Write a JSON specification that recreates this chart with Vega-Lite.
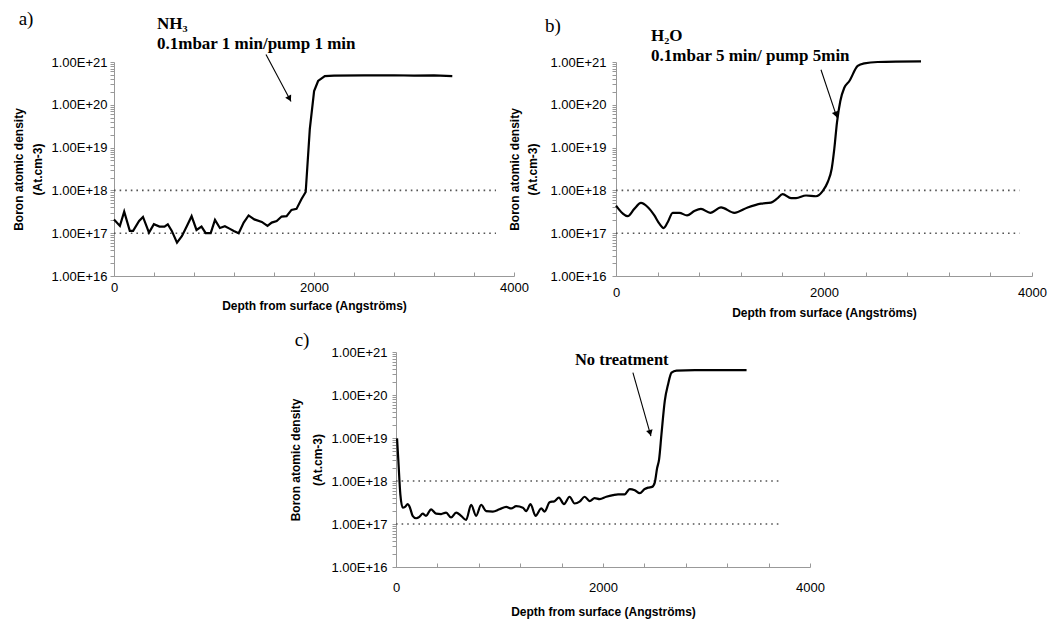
{
  "$schema": "https://vega.github.io/schema/vega-lite/v6.json",
  "background": "white",
  "padding": {"left": 12, "top": 10, "right": 5, "bottom": 5},
  "config": {"view": {"stroke": null}},
  "datasets": {
    "a": [
      {"d":0,"v":2.1e17},{"d":59,"v":1.48e17},{"d":102,"v":3.2e17},{"d":158,"v":1.13e17},{"d":191,"v":1.13e17},{"d":251,"v":1.93e17},{"d":290,"v":2.4e17},{"d":350,"v":1.03e17},{"d":399,"v":1.62e17},{"d":455,"v":1.43e17},{"d":505,"v":1.43e17},{"d":538,"v":1.62e17},{"d":578,"v":1.13e17},{"d":630,"v":6.0e16},{"d":680,"v":8.6e16},{"d":729,"v":1.48e17},{"d":776,"v":2.5e17},{"d":825,"v":1.19e17},{"d":875,"v":1.43e17},{"d":917,"v":1.0e17},{"d":967,"v":1.0e17},{"d":1010,"v":2.04e17},{"d":1059,"v":1.32e17},{"d":1109,"v":1.45e17},{"d":1155,"v":1.28e17},{"d":1198,"v":1.13e17},{"d":1247,"v":1.0e17},{"d":1297,"v":1.77e17},{"d":1346,"v":2.6e17},{"d":1403,"v":2.1e17},{"d":1478,"v":1.83e17},{"d":1535,"v":1.48e17},{"d":1577,"v":1.77e17},{"d":1627,"v":1.93e17},{"d":1676,"v":2.45e17},{"d":1726,"v":2.5e17},{"d":1775,"v":3.5e17},{"d":1825,"v":3.7e17},{"d":1874,"v":6.2e17},{"d":1917,"v":9.2e17},{"d":1958,"v":2.7e19},{"d":2001,"v":2.1e20},{"d":2041,"v":3.6e20},{"d":2108,"v":4.7e20},{"d":2200,"v":4.8e20},{"d":2500,"v":4.85e20},{"d":2800,"v":4.9e20},{"d":3000,"v":4.8e20},{"d":3200,"v":4.85e20},{"d":3383,"v":4.7e20}
    ],
    "b": [
      {"d":0,"v":4.4e17},{"d":64,"v":2.9e17},{"d":112,"v":2.5e17},{"d":176,"v":3.7e17},{"d":240,"v":5.1e17},{"d":304,"v":4.1e17},{"d":369,"v":2.6e17},{"d":417,"v":1.67e17},{"d":458,"v":1.32e17},{"d":497,"v":1.8e17},{"d":545,"v":3.0e17},{"d":609,"v":3.0e17},{"d":683,"v":2.6e17},{"d":753,"v":3.3e17},{"d":817,"v":3.7e17},{"d":907,"v":3.0e17},{"d":1010,"v":4.0e17},{"d":1138,"v":3.0e17},{"d":1266,"v":4.0e17},{"d":1394,"v":4.9e17},{"d":1490,"v":5.2e17},{"d":1548,"v":6.4e17},{"d":1602,"v":8.2e17},{"d":1683,"v":6.6e17},{"d":1731,"v":6.6e17},{"d":1827,"v":7.6e17},{"d":1923,"v":7.3e17},{"d":1987,"v":9.6e17},{"d":2035,"v":1.55e18},{"d":2074,"v":3.2e18},{"d":2099,"v":9.3e18},{"d":2125,"v":3.9e19},{"d":2157,"v":1.23e20},{"d":2195,"v":2.5e20},{"d":2244,"v":3.6e20},{"d":2324,"v":8.1e20},{"d":2388,"v":9.3e20},{"d":2516,"v":1.0e21},{"d":2933,"v":1.03e21}
    ],
    "c": [
      {"d":10,"v":9.8e18},{"d":23,"v":2.9e18},{"d":42,"v":4.9e17},{"d":65,"v":2.4e17},{"d":87,"v":2.5e17},{"d":113,"v":2.9e17},{"d":132,"v":2.5e17},{"d":161,"v":1.55e17},{"d":194,"v":1.36e17},{"d":226,"v":1.46e17},{"d":258,"v":1.74e17},{"d":290,"v":1.55e17},{"d":339,"v":2.2e17},{"d":387,"v":1.74e17},{"d":436,"v":1.7e17},{"d":484,"v":1.84e17},{"d":532,"v":1.42e17},{"d":581,"v":1.84e17},{"d":629,"v":1.55e17},{"d":677,"v":1.24e17},{"d":726,"v":2.8e17},{"d":774,"v":1.55e17},{"d":823,"v":2.8e17},{"d":871,"v":2.0e17},{"d":936,"v":1.95e17},{"d":1000,"v":2.2e17},{"d":1065,"v":2.5e17},{"d":1113,"v":2.3e17},{"d":1161,"v":2.6e17},{"d":1226,"v":2.4e17},{"d":1258,"v":2.0e17},{"d":1300,"v":2.9e17},{"d":1348,"v":1.55e17},{"d":1403,"v":2.3e17},{"d":1436,"v":1.95e17},{"d":1484,"v":3.2e17},{"d":1532,"v":3.4e17},{"d":1574,"v":4.1e17},{"d":1623,"v":2.9e17},{"d":1677,"v":4.3e17},{"d":1726,"v":3.0e17},{"d":1774,"v":3.3e17},{"d":1823,"v":4.3e17},{"d":1871,"v":3.4e17},{"d":1919,"v":4.0e17},{"d":1968,"v":3.8e17},{"d":2032,"v":4.3e17},{"d":2097,"v":4.7e17},{"d":2145,"v":4.9e17},{"d":2210,"v":4.9e17},{"d":2258,"v":6.5e17},{"d":2307,"v":6.1e17},{"d":2355,"v":5.2e17},{"d":2403,"v":6.5e17},{"d":2436,"v":7.0e17},{"d":2474,"v":7.3e17},{"d":2500,"v":9.2e17},{"d":2523,"v":2.0e18},{"d":2542,"v":3.2e18},{"d":2565,"v":1.23e19},{"d":2597,"v":7.3e19},{"d":2629,"v":1.78e20},{"d":2662,"v":3.3e20},{"d":2710,"v":3.7e20},{"d":2887,"v":3.8e20},{"d":3387,"v":3.8e20}
    ],
    "refs": [
      {"panel":"a","d":0,"d2":3820,"v":1e18},{"panel":"a","d":0,"d2":3820,"v":1e17},
      {"panel":"b","d":0,"d2":3880,"v":1e18},{"panel":"b","d":0,"d2":3880,"v":1e17},
      {"panel":"c","d":0,"d2":3707,"v":1e18},{"panel":"c","d":0,"d2":3707,"v":1e17}
    ],
    "notes": [
      {"panel":"a","kind":"letter","t":"a)","d":-880,"v":1.0e22},
      {"panel":"a","kind":"note","t":"NH₃","d":430,"v":7.6e21},
      {"panel":"a","kind":"note","t":"0.1mbar 1 min/pump 1 min","d":430,"v":2.6e21},
      {"panel":"b","kind":"letter","t":"b)","d":-606,"v":6.9e21},
      {"panel":"b","kind":"note","t":"H₂O","d":337,"v":4.1e21},
      {"panel":"b","kind":"note","t":"0.1mbar 5 min/ pump 5min","d":337,"v":1.38e21},
      {"panel":"c","kind":"letter","t":"c)","d":-908,"v":1.9e21},
      {"panel":"c","kind":"note","t":"No treatment","d":1729,"v":6.4e20}
    ],
    "arrows": [
      {"panel":"a","d":1520,"v":1.5e21,"d2":1770,"v2":1.2e20},
      {"panel":"b","d":1971,"v":6.6e20,"d2":2125,"v2":5.0e19},
      {"panel":"c","d":2289,"v":3.3e20,"d2":2463,"v2":1.1e19}
    ],
    "heads": [
      {"panel":"a","d":1751,"v":1.46e20},
      {"panel":"b","d":2112,"v":6.2e19},
      {"panel":"c","d":2453,"v":1.38e19}
    ]
  },
  "spacing": 13,
  "vconcat": [
    {
      "spacing": 102,
      "bounds": "flush",
      "hconcat": [
        {
          "width": 400, "height": 214,
          "encoding": {
            "x": {"field": "d", "type": "quantitative", "scale": {"domain": [0, 4000], "nice": false, "zero": false},
              "axis": {"values": [0,400,800,1200,1600,2000,2400,2800,3200,3600,4000], "labelExpr": "datum.value % 2000 == 0 ? format(datum.value, 'd') : ''", "title": "Depth from surface (Angströms)", "grid": false, "tickSize": -4, "domainColor": "#999999", "tickColor": "#999999", "labelFont": "Liberation Sans", "labelFontSize": 13, "labelColor": "black", "labelPadding": 9, "labelOverlap": false, "labelFlush": false, "titleFont": "Liberation Sans", "titleFontSize": 12, "titleFontWeight": "bold", "titleColor": "black", "titlePadding": 6}},
            "y": {"field": "v", "type": "quantitative", "scale": {"type": "log", "domain": [1e16, 1e21], "nice": false},
              "axis": {"values": [1e16,2e16,3e16,4e16,5e16,6e16,7e16,8e16,9e16,1e17,2e17,3e17,4e17,5e17,6e17,7e17,8e17,9e17,1e18,2e18,3e18,4e18,5e18,6e18,7e18,8e18,9e18,1e19,2e19,3e19,4e19,5e19,6e19,7e19,8e19,9e19,1e20,2e20,3e20,4e20,5e20,6e20,7e20,8e20,9e20,1e21], "labelExpr": "indexof(format(datum.value, '.2e'), '1.00') == 0 ? upper(format(datum.value, '.2e')) : ''", "title": ["Boron atomic density", "(At.cm-3)"], "grid": false, "tickSize": 4, "domainColor": "#999999", "tickColor": "#999999", "labelFont": "Liberation Sans", "labelFontSize": 13, "labelColor": "black", "labelPadding": 3, "labelOverlap": false, "labelFlush": false, "titleFont": "Liberation Sans", "titleFontSize": 12, "titleFontWeight": "bold", "titleColor": "black", "titleLineHeight": 19, "titlePadding": 6}}
          },
          "layer": [
            {"data": {"name": "refs"}, "transform": [{"filter": "datum.panel == 'a'"}], "mark": {"type": "rule", "color": "#555555", "strokeWidth": 1.6, "strokeDash": [1.6, 4]}, "encoding": {"x2": {"field": "d2"}}},
            {"data": {"name": "a"}, "mark": {"type": "line", "color": "black", "strokeWidth": 2.2}},
            {"data": {"name": "arrows"}, "transform": [{"filter": "datum.panel == 'a'"}], "mark": {"type": "rule", "color": "black", "strokeWidth": 1.1}, "encoding": {"x2": {"field": "d2"}, "y2": {"field": "v2"}}},
            {"data": {"name": "heads"}, "transform": [{"filter": "datum.panel == 'a'"}], "mark": {"type": "point", "shape": "triangle", "filled": true, "color": "black", "size": 45, "opacity": 1, "angle": 152}},
            {"data": {"name": "notes"}, "transform": [{"filter": "datum.panel == 'a' && datum.kind == 'letter'"}], "mark": {"type": "text", "font": "Liberation Serif", "fontSize": 19, "color": "black", "align": "center", "baseline": "middle"}, "encoding": {"text": {"field": "t"}}},
            {"data": {"name": "notes"}, "transform": [{"filter": "datum.panel == 'a' && datum.kind == 'note'"}], "mark": {"type": "text", "font": "Liberation Serif", "fontSize": 17, "fontWeight": "bold", "color": "black", "align": "left", "baseline": "middle"}, "encoding": {"text": {"field": "t"}}}
          ]
        },
        {
          "width": 416, "height": 214,
          "encoding": {
            "x": {"field": "d", "type": "quantitative", "scale": {"domain": [0, 4000], "nice": false, "zero": false},
              "axis": {"values": [0,400,800,1200,1600,2000,2400,2800,3200,3600,4000], "labelExpr": "datum.value % 2000 == 0 ? format(datum.value, 'd') : ''", "title": "Depth from surface (Angströms)", "grid": false, "tickSize": -4, "domainColor": "#999999", "tickColor": "#999999", "labelFont": "Liberation Sans", "labelFontSize": 13, "labelColor": "black", "labelPadding": 14, "labelOverlap": false, "labelFlush": false, "titleFont": "Liberation Sans", "titleFontSize": 12, "titleFontWeight": "bold", "titleColor": "black", "titlePadding": 8}},
            "y": {"field": "v", "type": "quantitative", "scale": {"type": "log", "domain": [1e16, 1e21], "nice": false},
              "axis": {"values": [1e16,2e16,3e16,4e16,5e16,6e16,7e16,8e16,9e16,1e17,2e17,3e17,4e17,5e17,6e17,7e17,8e17,9e17,1e18,2e18,3e18,4e18,5e18,6e18,7e18,8e18,9e18,1e19,2e19,3e19,4e19,5e19,6e19,7e19,8e19,9e19,1e20,2e20,3e20,4e20,5e20,6e20,7e20,8e20,9e20,1e21], "labelExpr": "indexof(format(datum.value, '.2e'), '1.00') == 0 ? upper(format(datum.value, '.2e')) : ''", "title": ["Boron atomic density", "(At.cm-3)"], "grid": false, "tickSize": 4, "domainColor": "#999999", "tickColor": "#999999", "labelFont": "Liberation Sans", "labelFontSize": 13, "labelColor": "black", "labelPadding": 6, "labelOverlap": false, "labelFlush": false, "titleFont": "Liberation Sans", "titleFontSize": 12, "titleFontWeight": "bold", "titleColor": "black", "titleLineHeight": 18, "titlePadding": 10}}
          },
          "layer": [
            {"data": {"name": "refs"}, "transform": [{"filter": "datum.panel == 'b'"}], "mark": {"type": "rule", "color": "#555555", "strokeWidth": 1.6, "strokeDash": [1.6, 4]}, "encoding": {"x2": {"field": "d2"}}},
            {"data": {"name": "b"}, "mark": {"type": "line", "color": "black", "strokeWidth": 2.2, "interpolate": "monotone"}},
            {"data": {"name": "arrows"}, "transform": [{"filter": "datum.panel == 'b'"}], "mark": {"type": "rule", "color": "black", "strokeWidth": 1.1}, "encoding": {"x2": {"field": "d2"}, "y2": {"field": "v2"}}},
            {"data": {"name": "heads"}, "transform": [{"filter": "datum.panel == 'b'"}], "mark": {"type": "point", "shape": "triangle", "filled": true, "color": "black", "size": 45, "opacity": 1, "angle": 162}},
            {"data": {"name": "notes"}, "transform": [{"filter": "datum.panel == 'b' && datum.kind == 'letter'"}], "mark": {"type": "text", "font": "Liberation Serif", "fontSize": 19, "color": "black", "align": "center", "baseline": "middle"}, "encoding": {"text": {"field": "t"}}},
            {"data": {"name": "notes"}, "transform": [{"filter": "datum.panel == 'b' && datum.kind == 'note'"}], "mark": {"type": "text", "font": "Liberation Serif", "fontSize": 17, "fontWeight": "bold", "color": "black", "align": "left", "baseline": "middle"}, "encoding": {"text": {"field": "t"}}}
          ]
        }
      ]
    },
    {
      "spacing": 0,
      "bounds": "flush",
      "hconcat": [
        {"width": 282, "height": 215, "data": {"values": [{"t": ""}]}, "mark": {"type": "text"}, "encoding": {"text": {"field": "t"}}},
        {
          "width": 414, "height": 215,
          "encoding": {
            "x": {"field": "d", "type": "quantitative", "scale": {"domain": [0, 4000], "nice": false, "zero": false},
              "axis": {"values": [0,400,800,1200,1600,2000,2400,2800,3200,3600,4000], "labelExpr": "datum.value % 2000 == 0 ? format(datum.value, 'd') : ''", "title": "Depth from surface (Angströms)", "grid": false, "tickSize": -4, "domainColor": "#999999", "tickColor": "#999999", "labelFont": "Liberation Sans", "labelFontSize": 13, "labelColor": "black", "labelPadding": 18, "labelOverlap": false, "labelFlush": false, "titleFont": "Liberation Sans", "titleFontSize": 12, "titleFontWeight": "bold", "titleColor": "black", "titlePadding": 12}},
            "y": {"field": "v", "type": "quantitative", "scale": {"type": "log", "domain": [1e16, 1e21], "nice": false},
              "axis": {"values": [1e16,2e16,3e16,4e16,5e16,6e16,7e16,8e16,9e16,1e17,2e17,3e17,4e17,5e17,6e17,7e17,8e17,9e17,1e18,2e18,3e18,4e18,5e18,6e18,7e18,8e18,9e18,1e19,2e19,3e19,4e19,5e19,6e19,7e19,8e19,9e19,1e20,2e20,3e20,4e20,5e20,6e20,7e20,8e20,9e20,1e21], "labelExpr": "indexof(format(datum.value, '.2e'), '1.00') == 0 ? upper(format(datum.value, '.2e')) : ''", "title": ["Boron atomic density", "(At.cm-3)"], "grid": false, "tickSize": 4, "domainColor": "#999999", "tickColor": "#999999", "labelFont": "Liberation Sans", "labelFontSize": 13, "labelColor": "black", "labelPadding": 5, "labelOverlap": false, "labelFlush": false, "titleFont": "Liberation Sans", "titleFontSize": 12, "titleFontWeight": "bold", "titleColor": "black", "titleLineHeight": 22, "titlePadding": 6}}
          },
          "layer": [
            {"data": {"name": "refs"}, "transform": [{"filter": "datum.panel == 'c'"}], "mark": {"type": "rule", "color": "#555555", "strokeWidth": 1.6, "strokeDash": [1.6, 4]}, "encoding": {"x2": {"field": "d2"}}},
            {"data": {"name": "c"}, "mark": {"type": "line", "color": "black", "strokeWidth": 2.2, "interpolate": "monotone"}},
            {"data": {"name": "arrows"}, "transform": [{"filter": "datum.panel == 'c'"}], "mark": {"type": "rule", "color": "black", "strokeWidth": 1.1}, "encoding": {"x2": {"field": "d2"}, "y2": {"field": "v2"}}},
            {"data": {"name": "heads"}, "transform": [{"filter": "datum.panel == 'c'"}], "mark": {"type": "point", "shape": "triangle", "filled": true, "color": "black", "size": 45, "opacity": 1, "angle": 164}},
            {"data": {"name": "notes"}, "transform": [{"filter": "datum.panel == 'c' && datum.kind == 'letter'"}], "mark": {"type": "text", "font": "Liberation Serif", "fontSize": 19, "color": "black", "align": "center", "baseline": "middle"}, "encoding": {"text": {"field": "t"}}},
            {"data": {"name": "notes"}, "transform": [{"filter": "datum.panel == 'c' && datum.kind == 'note'"}], "mark": {"type": "text", "font": "Liberation Serif", "fontSize": 16.5, "fontWeight": "bold", "color": "black", "align": "left", "baseline": "middle"}, "encoding": {"text": {"field": "t"}}}
          ]
        }
      ]
    }
  ]
}
